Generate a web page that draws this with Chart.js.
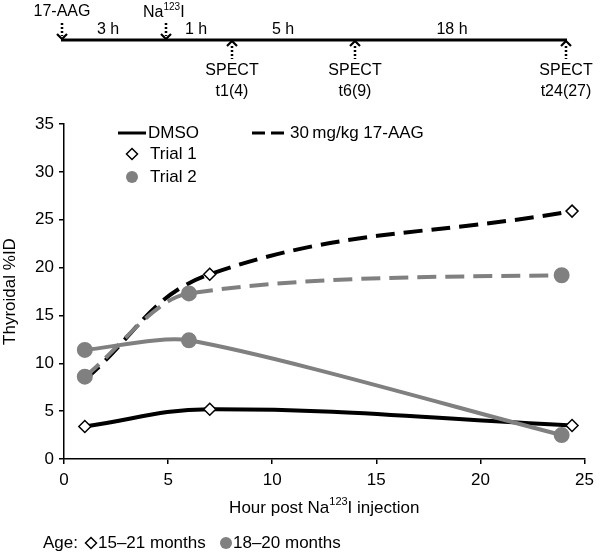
<!DOCTYPE html>
<html>
<head>
<meta charset="utf-8">
<script src="https://cdn.jsdelivr.net/npm/chart.js@4.4.1/dist/chart.umd.min.js"></script>
<style>
  html, body { margin: 0; padding: 0; background: #fff; }
  #wrap { position: relative; width: 600px; height: 556px; }
</style>
</head>
<body>
<div id="wrap"><canvas id="thyroid-chart"></canvas></div>
<script>
// =========================
// Data (hours post injection vs thyroidal %ID)
// =========================
const dmsoTrial1X = [1, 7, 24.4];
const dmsoTrial1Y = [3.4, 5.2, 3.5];
const aagTrial1X = [1, 7, 24.4];
const aagTrial1Y = [8.3, 19.3, 25.9];
const dmsoTrial2X = [1, 6, 23.9];
const dmsoTrial2Y = [11.4, 12.4, 2.5];
const aagTrial2X = [1, 6, 23.9];
const aagTrial2Y = [8.6, 17.3, 19.2];

const xTickValues = [0, 5, 10, 15, 20, 25];
const yTickValues = [0, 5, 10, 15, 20, 25, 30, 35];

// timeline labels
const timelineGaps = ["3 h", "1 h", "5 h", "18 h"];
const spectLabels = ["t1(4)", "t6(9)", "t24(27)"];

const FONT = '"Liberation Sans", Arial, Helvetica, sans-serif';
const BLACK = "#000";
const GREY = "#808080";

function pts(xs, ys) {
  return xs.map((x, i) => ({ x: x, y: ys[i] }));
}

// =========================
// Timeline + legends (drawn on the same canvas)
// =========================
function dottedStem(ctx, x, y1, y2) {
  ctx.save();
  ctx.setLineDash([2, 2]);
  ctx.lineWidth = 2.5;
  ctx.beginPath();
  ctx.moveTo(x, y1);
  ctx.lineTo(x, y2);
  ctx.stroke();
  ctx.restore();
}

function chevron(ctx, x, tipY, dir) {
  ctx.save();
  ctx.lineWidth = 2.2;
  ctx.beginPath();
  ctx.moveTo(x - 5, tipY - dir * 5);
  ctx.lineTo(x, tipY);
  ctx.lineTo(x + 5, tipY - dir * 5);
  ctx.stroke();
  ctx.restore();
}

function supText(ctx, x, y, base, sup, tail, size) {
  ctx.font = size + "px " + FONT;
  ctx.fillText(base, x, y);
  let w = ctx.measureText(base).width;
  ctx.font = Math.round(size * 0.65) + "px " + FONT;
  ctx.fillText(sup, x + w, y - size * 0.35);
  w += ctx.measureText(sup).width;
  ctx.font = size + "px " + FONT;
  ctx.fillText(tail, x + w, y);
  return w + ctx.measureText(tail).width;
}

function supWidth(ctx, base, sup, tail, size) {
  ctx.font = size + "px " + FONT;
  let w = ctx.measureText(base).width + ctx.measureText(tail).width;
  ctx.font = Math.round(size * 0.65) + "px " + FONT;
  return w + ctx.measureText(sup).width;
}

function diamond(ctx, cx, cy, r) {
  ctx.save();
  ctx.fillStyle = "#fff";
  ctx.strokeStyle = BLACK;
  ctx.lineWidth = 1.5;
  ctx.beginPath();
  ctx.moveTo(cx, cy - r);
  ctx.lineTo(cx + r, cy);
  ctx.lineTo(cx, cy + r);
  ctx.lineTo(cx - r, cy);
  ctx.closePath();
  ctx.fill();
  ctx.stroke();
  ctx.restore();
}

function dot(ctx, cx, cy, r) {
  ctx.save();
  ctx.fillStyle = GREY;
  ctx.beginPath();
  ctx.arc(cx, cy, r, 0, Math.PI * 2);
  ctx.fill();
  ctx.restore();
}

const extrasPlugin = {
  id: "extras",
  afterDraw(chart) {
    const ctx = chart.ctx;
    ctx.save();
    ctx.fillStyle = BLACK;
    ctx.strokeStyle = BLACK;
    ctx.textBaseline = "middle";

    // timeline axis
    ctx.lineWidth = 3;
    ctx.beginPath();
    ctx.moveTo(61, 40);
    ctx.lineTo(567, 40);
    ctx.stroke();

    // dosing arrows (down)
    dottedStem(ctx, 62, 23, 36);
    chevron(ctx, 62, 39, 1);
    dottedStem(ctx, 166, 23, 36);
    chevron(ctx, 166, 39, 1);

    ctx.font = "16px " + FONT;
    ctx.textAlign = "center";
    ctx.fillText("17-AAG", 62, 12);
    ctx.textAlign = "left";
    supText(ctx, 143, 13, "Na", "123", "I", 16);

    // gap labels
    ctx.textAlign = "center";
    ctx.font = "16px " + FONT;
    const gapX = [108, 196, 283, 452];
    timelineGaps.forEach((t, i) => ctx.fillText(t, gapX[i], 30));

    // SPECT arrows (up)
    const spectX = [232, 355, 566];
    spectX.forEach((x, i) => {
      chevron(ctx, x, 41, -1);
      dottedStem(ctx, x, 46, 59);
      ctx.fillText("SPECT", x, 71);
      ctx.fillText(spectLabels[i], x, 92);
    });

    // in-plot legend
    ctx.textAlign = "left";
    ctx.font = "17px " + FONT;
    ctx.lineWidth = 3;
    ctx.beginPath();
    ctx.moveTo(118, 133);
    ctx.lineTo(146, 133);
    ctx.stroke();
    ctx.fillText("DMSO", 148, 133);

    ctx.save();
    ctx.setLineDash([13, 6]);
    ctx.beginPath();
    ctx.moveTo(252, 133);
    ctx.lineTo(287, 133);
    ctx.stroke();
    ctx.restore();
    ctx.fillText("30\u2009mg/kg 17-AAG", 290, 133);

    diamond(ctx, 132, 154, 5.5);
    ctx.fillText("Trial 1", 150, 154);
    dot(ctx, 132, 177, 6);
    ctx.fillText("Trial 2", 150, 177);

    // age legend
    ctx.fillText("Age:", 43, 543);
    diamond(ctx, 91, 543, 5.5);
    ctx.fillText("15\u201321 months", 98, 543);
    dot(ctx, 226, 543, 6);
    ctx.fillText("18\u201320 months", 233, 543);

    // x axis title with superscript
    const area = chart.chartArea;
    const titleW = supWidth(ctx, "Hour post Na", "123", "I injection", 17);
    supText(ctx, (area.left + area.right) / 2 - titleW / 2, 508, "Hour post Na", "123", "I injection", 17);

    ctx.restore();
  },
};

// =========================
// Chart
// =========================
const canvas = document.getElementById("thyroid-chart");

const lineBase = {
  borderWidth: 4,
  fill: false,
  pointHoverRadius: 6,
};

new Chart(canvas.getContext("2d"), {
  type: "line",
  data: {
    datasets: [
      {
        ...lineBase,
        label: "DMSO Trial 1",
        data: pts(dmsoTrial1X, dmsoTrial1Y),
        tension: 0.4,
        borderColor: BLACK,
        pointStyle: "rectRot",
        pointRadius: 6,
        pointBackgroundColor: "#fff",
        pointBorderColor: BLACK,
        pointBorderWidth: 1.5,
        order: 2,
      },
      {
        ...lineBase,
        label: "17-AAG Trial 1",
        data: pts(aagTrial1X, aagTrial1Y),
        tension: 0.4,
        borderColor: BLACK,
        borderDash: [19, 9],
        pointStyle: "rectRot",
        pointRadius: [0, 6, 6],
        pointBackgroundColor: "#fff",
        pointBorderColor: BLACK,
        pointBorderWidth: 1.5,
        order: 3,
      },
      {
        ...lineBase,
        label: "DMSO Trial 2",
        data: pts(dmsoTrial2X, dmsoTrial2Y),
        tension: 0.25,
        borderColor: GREY,
        pointStyle: "circle",
        pointRadius: 6,
        pointBackgroundColor: GREY,
        pointBorderColor: GREY,
        order: 1,
      },
      {
        ...lineBase,
        label: "17-AAG Trial 2",
        data: pts(aagTrial2X, aagTrial2Y),
        cubicInterpolationMode: "monotone",
        borderColor: GREY,
        borderDash: [19, 9],
        pointStyle: "circle",
        pointRadius: 6,
        pointBackgroundColor: GREY,
        pointBorderColor: GREY,
        order: 0,
      },
    ],
  },
  options: {
    responsive: true,
    maintainAspectRatio: false,
    animation: false,
    layout: { padding: { top: 124, right: 13, bottom: 37, left: 0 } },
    plugins: {
      legend: { display: false },
      tooltip: { enabled: false },
    },
    scales: {
      x: {
        type: "linear",
        min: 0,
        max: 25,
        afterBuildTicks: (s) => { s.ticks = xTickValues.map((v) => ({ value: v })); },
        afterFit: (s) => { s.height = 60; },
        border: { display: true, color: BLACK, width: 1.5 },
        grid: { display: true, drawOnChartArea: false, drawTicks: true, tickLength: 5, color: BLACK, lineWidth: 1.5 },
        ticks: { color: BLACK, padding: 6, font: { family: FONT, size: 17 } },
      },
      y: {
        type: "linear",
        min: 0,
        max: 35,
        afterBuildTicks: (s) => { s.ticks = yTickValues.map((v) => ({ value: v })); },
        afterFit: (s) => { s.width = 64; },
        border: { display: true, color: BLACK, width: 1.5 },
        grid: { display: true, drawOnChartArea: false, drawTicks: true, tickLength: 5, color: BLACK, lineWidth: 1.5 },
        ticks: { color: BLACK, padding: 5, font: { family: FONT, size: 17 } },
        title: {
          display: true,
          text: "Thyroidal %ID",
          color: BLACK,
          padding: { top: 0, bottom: 0 },
          font: { family: FONT, size: 17 },
        },
      },
    },
  },
  plugins: [extrasPlugin],
});
</script>
</body>
</html>
